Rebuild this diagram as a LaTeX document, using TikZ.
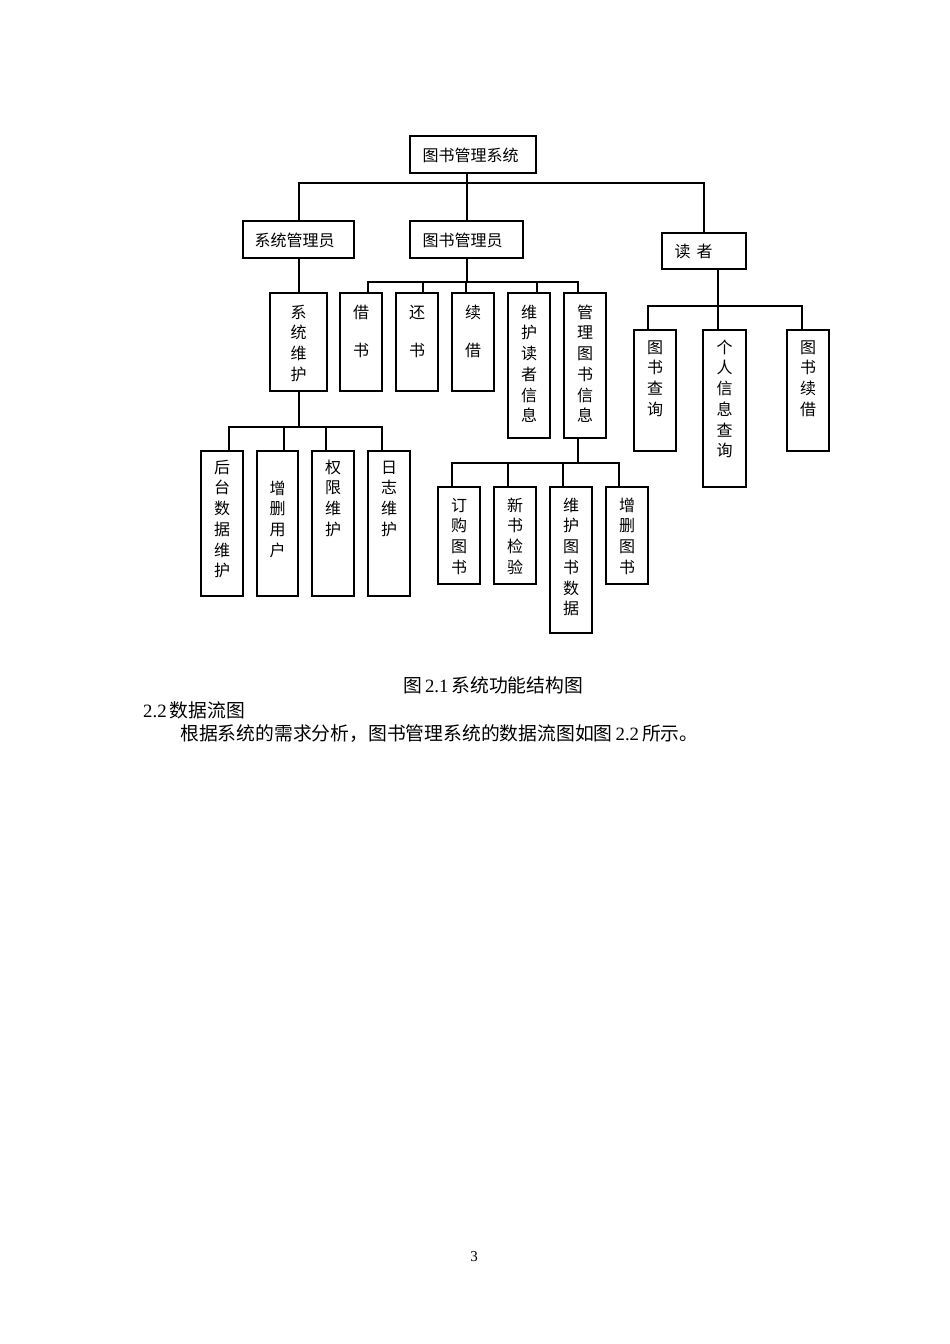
\documentclass[tikz,border=0pt]{standalone}
\usepackage{fontspec}
\setmainfont{Liberation Serif}
\newfontfamily\cjk{Noto Sans CJK SC}
\newcommand{\firststrut}{\rule{0pt}{16pt}}
\begin{document}
\begin{tikzpicture}[x=1pt,y=-1pt,
  bx/.style={draw=black, line width=2pt, inner sep=0pt, outer sep=0pt},
  hlab/.style={inner sep=0pt, font=\cjk\fontsize{16}{20}\selectfont},
  vlab/.style={inner sep=0pt, anchor=north, align=center, font=\cjk\fontsize{16}{20.7}\selectfont},
  conn/.style={line width=2pt},
  body/.style={inner sep=0pt, anchor=base west, font=\fontsize{18.8}{22}\selectfont}
]
\useasboundingbox[fill=white] (0,0) rectangle (950,1344);

% ---------- level 0 and 1 ----------
\node[bx, minimum width=126pt, minimum height=37pt] (root) at (473,154.5) {};
\node[hlab] (root-t) at (470.5,155) {图书管理系统};

\node[bx, minimum width=111pt, minimum height=37pt] (xtgly) at (298.5,239.5) {};
\node[hlab] (xtgly-t) at (294.5,240) {系统管理员};

\node[bx, minimum width=113pt, minimum height=37pt] (tsgly) at (466.5,239.5) {};
\node[hlab] (tsgly-t) at (462.5,240) {图书管理员};

\node[bx, minimum width=84pt, minimum height=36pt] (dz) at (704,251) {};
\node[hlab] (dz-t) at (693.5,251.5) {读\hspace{6pt}者};

% ---------- level 2 ----------
\node[bx, minimum width=57pt, minimum height=98pt] (xtwh) at (298.5,342) {};
\node[vlab] (xtwh-t) at (298.5,302) {\firststrut 系\\统\\维\\护};

\node[bx, minimum width=42pt, minimum height=98pt] (jie) at (361,342) {};
\node[vlab] (jie-t) at (361,302) {\firststrut 借\\[18pt]书};

\node[bx, minimum width=42pt, minimum height=98pt] (huan) at (417,342) {};
\node[vlab] (huan-t) at (417,302) {\firststrut 还\\[18pt]书};

\node[bx, minimum width=42pt, minimum height=98pt] (xj) at (473,342) {};
\node[vlab] (xj-t) at (473,302) {\firststrut 续\\[18pt]借};

\node[bx, minimum width=42pt, minimum height=145pt] (whdz) at (529,365.5) {};
\node[vlab] (whdz-t) at (529,302) {\firststrut 维\\护\\读\\者\\信\\息};

\node[bx, minimum width=42pt, minimum height=145pt] (glts) at (585,365.5) {};
\node[vlab] (glts-t) at (585,302) {\firststrut 管\\理\\图\\书\\信\\息};

% ---------- reader children ----------
\node[bx, minimum width=42pt, minimum height=121pt] (tscx) at (655,390.5) {};
\node[vlab] (tscx-t) at (655,337) {\firststrut 图\\书\\查\\询};

\node[bx, minimum width=43pt, minimum height=157pt] (grxx) at (724.5,408.5) {};
\node[vlab] (grxx-t) at (724.5,337) {\firststrut 个\\人\\信\\息\\查\\询};

\node[bx, minimum width=42pt, minimum height=121pt] (tsxj) at (808,390.5) {};
\node[vlab] (tsxj-t) at (808,337) {\firststrut 图\\书\\续\\借};

% ---------- system maintenance children ----------
\node[bx, minimum width=42pt, minimum height=145pt] (htsj) at (222,523.5) {};
\node[vlab] (htsj-t) at (222,457) {\firststrut 后\\台\\数\\据\\维\\护};

\node[bx, minimum width=41pt, minimum height=145pt] (zsyh) at (277.5,523.5) {};
\node[vlab] (zsyh-t) at (277.5,478) {\firststrut 增\\删\\用\\户};

\node[bx, minimum width=42pt, minimum height=145pt] (qxwh) at (333,523.5) {};
\node[vlab] (qxwh-t) at (333,457) {\firststrut 权\\限\\维\\护};

\node[bx, minimum width=42pt, minimum height=145pt] (rzwh) at (389,523.5) {};
\node[vlab] (rzwh-t) at (389,457) {\firststrut 日\\志\\维\\护};

% ---------- book info children ----------
\node[bx, minimum width=42pt, minimum height=97pt] (dgts) at (459,535.5) {};
\node[vlab] (dgts-t) at (459,495) {\firststrut 订\\购\\图\\书};

\node[bx, minimum width=42pt, minimum height=97pt] (xsjy) at (515,535.5) {};
\node[vlab] (xsjy-t) at (515,495) {\firststrut 新\\书\\检\\验};

\node[bx, minimum width=42pt, minimum height=146pt] (whts) at (571,560) {};
\node[vlab] (whts-t) at (571,495) {\firststrut 维\\护\\图\\书\\数\\据};

\node[bx, minimum width=42pt, minimum height=97pt] (zsts) at (627,535.5) {};
\node[vlab] (zsts-t) at (627,495) {\firststrut 增\\删\\图\\书};

% ---------- connectors ----------
\coordinate (bus0) at (466,183);
\draw[conn] (tsgly.north |- root.south) -- (tsgly.north);
\draw[conn] (xtgly.north) |- (bus0) -| (dz.north);

\coordinate (bus1) at (466,282);
\draw[conn] (tsgly.south) -- (tsgly.south |- bus1);
\draw[conn] ([xshift=7pt]jie.north) |- (bus1) -| ([xshift=-7pt]glts.north);
\draw[conn] ([xshift=6pt]huan.north) -- ([xshift=6pt]huan.north |- bus1);
\draw[conn] ([xshift=-7pt]xj.north) -- ([xshift=-7pt]xj.north |- bus1);
\draw[conn] ([xshift=8pt]whdz.north) -- ([xshift=8pt]whdz.north |- bus1);

\draw[conn] (xtgly.south) -- (xtwh.north);

\coordinate (bus2) at (298,427);
\draw[conn] (xtwh.south) -- (xtwh.south |- bus2);
\draw[conn] ([xshift=7pt]htsj.north) |- (bus2) -| ([xshift=-7pt]rzwh.north);
\draw[conn] ([xshift=6.5pt]zsyh.north) -- ([xshift=6.5pt]zsyh.north |- bus2);
\draw[conn] ([xshift=-7pt]qxwh.north) -- ([xshift=-7pt]qxwh.north |- bus2);

\coordinate (bus3) at (578,463);
\draw[conn] ([xshift=-7pt]glts.south) -- (bus3);
\draw[conn] ([xshift=-7pt]dgts.north) |- (bus3) -| ([xshift=-8pt]zsts.north);
\draw[conn] ([xshift=-7pt]xsjy.north) -- ([xshift=-7pt]xsjy.north |- bus3);
\draw[conn] ([xshift=-8pt]whts.north) -- ([xshift=-8pt]whts.north |- bus3);

\coordinate (bus4) at (718,306);
\draw[conn] ([xshift=14pt]dz.south) -- (bus4);
\draw[conn] ([xshift=-7pt]tscx.north) |- (bus4) -| ([xshift=-6pt]tsxj.north);
\draw[conn] ([xshift=-6.5pt]grxx.north) -- ([xshift=-6.5pt]grxx.north |- bus4);

% ---------- page text ----------
\node[body] (cap) at (403,692) {{\cjk 图}\hspace{3pt}2.1\hspace{3pt}{\cjk 系统功能结构图}};
\node[body] (sec) at (143,717) {2.2\hspace{3pt}{\cjk 数据流图}};
\node[body] (para) at (180,740) {{\cjk 根据系统的需求分析，图书管理系统的数据流图如图}\hspace{3pt}2.2\hspace{3pt}{\cjk 所示。}};
\node[inner sep=0pt, anchor=base, font=\fontsize{15}{18}\selectfont] (pg) at (474,1261) {3};
\end{tikzpicture}
\end{document}
